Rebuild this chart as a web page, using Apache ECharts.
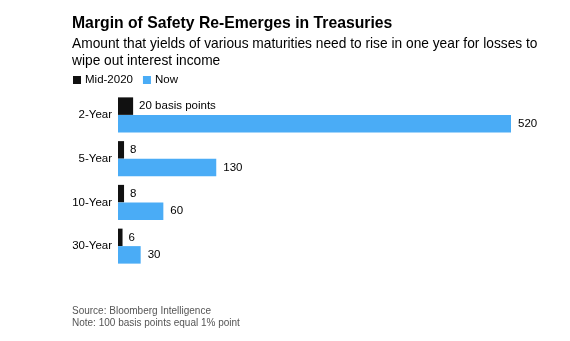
<!DOCTYPE html>
<html>
<head>
<meta charset="utf-8">
<script src="https://cdn.jsdelivr.net/npm/echarts@6/dist/echarts.min.js"></script>
<style>
html,body{margin:0;padding:0;background:#fff;}
#chart{width:570px;height:341px;}
</style>
</head>
<body>
<div id="chart"></div>
<script>
var categories = ['2-Year', '5-Year', '10-Year', '30-Year'];
var mid2020 = [20, 8, 8, 6];
var now = [520, 130, 60, 30];
var seriesNames = ['Mid-2020', 'Now'];

var FONT = '"Liberation Sans", Arial, Helvetica, sans-serif';
var chart = echarts.init(document.getElementById('chart'), null, {renderer: 'canvas'});
chart.setOption({
  backgroundColor: '#ffffff',
  animation: false,
  textStyle: {fontFamily: FONT},
  title: [
    {
      text: 'Margin of Safety Re-Emerges in Treasuries',
      left: 67, top: 11,
      textStyle: {fontFamily: FONT, fontSize: 15.75, fontWeight: 'bold', color: '#000'}
    },
    {
      text: 'Amount that yields of various maturities need to rise in one year for losses to\nwipe out interest income',
      left: 67, top: 31,
      textStyle: {fontFamily: FONT, fontSize: 13.75, fontWeight: 'normal', color: '#000', lineHeight: 17}
    },
    {
      text: 'Source: Bloomberg Intelligence\nNote: 100 basis points equal 1% point',
      left: 67, top: 300,
      textStyle: {fontFamily: FONT, fontSize: 10, fontWeight: 'normal', color: '#555', lineHeight: 12}
    }
  ],
  legend: {
    left: 68, top: 69,
    itemWidth: 8, itemHeight: 8, itemGap: 10,
    icon: 'rect',
    data: seriesNames,
    textStyle: {fontFamily: FONT, fontSize: 11.5, color: '#000', padding: [0, 0, 0, -1]}
  },
  grid: {left: 118, top: 93, width: 393, height: 175, containLabel: false},
  xAxis: {
    type: 'value', min: 0, max: 520, show: false
  },
  yAxis: {
    type: 'category', data: categories, inverse: true,
    axisLine: {show: false}, axisTick: {show: false},
    axisLabel: {margin: 6, fontFamily: FONT, fontSize: 11.5, color: '#000'}
  },
  series: [
    {
      name: seriesNames[0], type: 'bar', data: mid2020,
      barGap: '0%', barCategoryGap: '20%',
      itemStyle: {color: '#111111'},
      label: {
        show: true, position: 'right', distance: 6,
        fontFamily: FONT, fontSize: 11.5, color: '#000',
        formatter: function (p) { return p.dataIndex === 0 ? p.value + ' basis points' : String(p.value); }
      }
    },
    {
      name: seriesNames[1], type: 'bar', data: now,
      barGap: '0%', barCategoryGap: '20%',
      itemStyle: {color: '#4aacf6'},
      label: {
        show: true, position: 'right', distance: 7,
        fontFamily: FONT, fontSize: 11.5, color: '#000'
      }
    }
  ]
});
</script>
</body>
</html>
